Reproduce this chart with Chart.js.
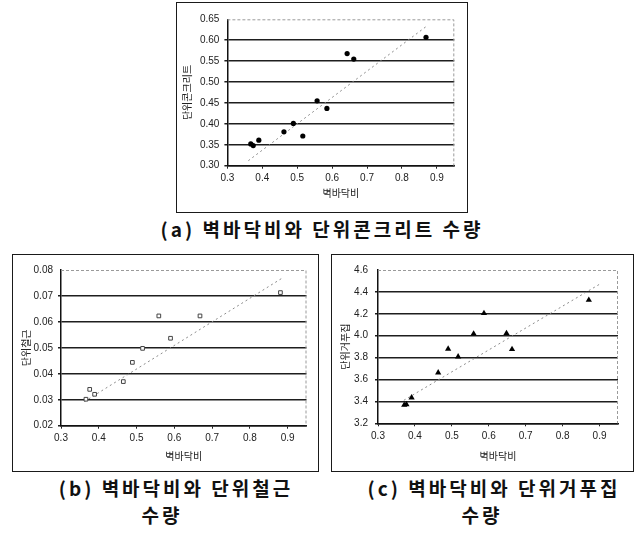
<!DOCTYPE html>
<html><head><meta charset="utf-8">
<script src="https://cdn.jsdelivr.net/npm/chart.js@4.4.1/dist/chart.umd.min.js"></script>
<style>
html,body{margin:0;padding:0;background:#fff;}
body{width:639px;height:534px;position:relative;overflow:hidden;font-family:"Noto Sans CJK KR",sans-serif;}
.frame{position:absolute;border:1px solid #1a1a1a;box-sizing:border-box;}
canvas{position:absolute;}
.cap{position:absolute;font-weight:bold;font-size:19px;line-height:22px;color:#111;white-space:nowrap;letter-spacing:3px;transform:translate(-50%,-50%);}
</style></head><body>
<div class="frame" style="left:176px;top:2px;width:292px;height:211px"></div>
<div class="frame" style="left:12px;top:254px;width:307px;height:218px"></div>
<div class="frame" style="left:331px;top:254px;width:303px;height:218px"></div>
<canvas id="ca" width="291" height="209" style="left:176px;top:3px"></canvas>
<canvas id="cb" width="305" height="216" style="left:13px;top:255px"></canvas>
<canvas id="cc" width="301" height="216" style="left:332px;top:255px"></canvas>
<div class="cap" style="left:322px;top:229px">(a) 벽바닥비와 단위콘크리트 수량</div>
<div class="cap" style="left:176px;top:488px">(b) 벽바닥비와 단위철근</div>
<div class="cap" style="left:162px;top:515px">수량</div>
<div class="cap" style="left:494px;top:488px">(c) 벽바닥비와 단위거푸집</div>
<div class="cap" style="left:482px;top:515px">수량</div>
<script>
// ---- shared x axis ----
const xTitle = '벽바닥비';
const xTickValues = [0.3, 0.4, 0.5, 0.6, 0.7, 0.8, 0.9];
const xTickLabels = ['0.3', '0.4', '0.5', '0.6', '0.7', '0.8', '0.9'];

// ---- (a) 단위콘크리트 ----
const ratioA    = [0.367, 0.374, 0.390, 0.462, 0.489, 0.516, 0.557, 0.585, 0.643, 0.662, 0.869];
const concreteA = [0.352, 0.348, 0.361, 0.381, 0.401, 0.371, 0.455, 0.437, 0.568, 0.555, 0.607];
const trendAX   = [0.360, 0.873];
const trendAY   = [0.312, 0.635];
const yTickValuesA = [0.30, 0.35, 0.40, 0.45, 0.50, 0.55, 0.60, 0.65];
const yTickLabelsA = ['0.30', '0.35', '0.40', '0.45', '0.50', '0.55', '0.60', '0.65'];

// ---- (b) 단위철근 ----
const ratioB = [0.366, 0.376, 0.389, 0.465, 0.489, 0.516, 0.559, 0.590, 0.668, 0.881];
const rebarB = [0.0302, 0.0340, 0.0321, 0.0370, 0.0444, 0.0498, 0.0623, 0.0537, 0.0623, 0.0713];
const trendBX = [0.362, 0.887];
const trendBY = [0.0293, 0.0770];
const yTickValuesB = [0.02, 0.03, 0.04, 0.05, 0.06, 0.07, 0.08];
const yTickLabelsB = ['0.02', '0.03', '0.04', '0.05', '0.06', '0.07', '0.08'];

// ---- (c) 단위거푸집 ----
const ratioC = [0.371, 0.377, 0.391, 0.463, 0.490, 0.517, 0.559, 0.587, 0.648, 0.663, 0.871];
const formC  = [3.367, 3.372, 3.434, 3.662, 3.879, 3.808, 4.018, 4.205, 4.022, 3.876, 4.326];
const trendCX = [0.370, 0.905];
const trendCY = [3.410, 4.480];
const yTickValuesC = [3.2, 3.4, 3.6, 3.8, 4.0, 4.2, 4.4, 4.6];
const yTickLabelsC = ['3.2', '3.4', '3.6', '3.8', '4.0', '4.2', '4.4', '4.6'];

const plotFrame = {
  id: 'plotFrame',
  beforeDatasetsDraw(chart) {
    const {ctx, chartArea: a} = chart;
    ctx.save();
    ctx.strokeStyle = '#9a9a9a';
    ctx.lineWidth = 1;
    ctx.setLineDash([3, 2]);
    ctx.beginPath();
    ctx.moveTo(a.left, a.top + 0.5);
    ctx.lineTo(a.right - 0.5, a.top + 0.5);
    ctx.lineTo(a.right - 0.5, a.bottom);
    ctx.stroke();
    ctx.restore();
  }
};

function pts(xs, ys) { return xs.map((x, i) => ({x: x, y: ys[i]})); }

function makeChart(id, o) {
  const yMax = o.yTicks[o.yTicks.length - 1];
  return new Chart(document.getElementById(id), {
    type: 'scatter',
    data: {
      datasets: [
        {
          data: pts(o.xs, o.ys),
          pointStyle: o.pointStyle,
          pointRadius: o.pointRadius,
          backgroundColor: o.pointFill,
          borderColor: o.pointBorder,
          borderWidth: o.pointBorderWidth,
          clip: false
        },
        {
          data: pts(o.tx, o.ty),
          showLine: true,
          pointRadius: 0,
          borderColor: '#8c8c8c',
          borderWidth: 1,
          borderDash: [2, 3],
          clip: false
        }
      ]
    },
    options: {
      responsive: false,
      animation: false,
      events: [],
      layout: {padding: o.pad},
      plugins: {legend: {display: false}, tooltip: {enabled: false}},
      scales: {
        x: {
          type: 'linear', min: 0.3, max: 0.95,
          afterBuildTicks: s => { s.ticks = xTickValues.map(v => ({value: v})); },
          afterFit: s => { s.height = o.xh; },
          ticks: {
            autoSkip: false, maxRotation: 0, padding: o.xtPad, color: '#222',
            font: {family: 'Liberation Sans', size: 10},
            callback: (v, i) => xTickLabels[i]
          },
          grid: {drawOnChartArea: false, drawTicks: true, tickLength: 3, color: '#222'},
          border: {display: true, color: '#111', width: 1.5},
          title: {display: true, text: xTitle, color: '#222',
                  font: {family: 'Noto Sans CJK KR', size: 10},
                  padding: {top: 0, bottom: o.xTitlePad}}
        },
        y: {
          type: 'linear', min: o.yTicks[0], max: yMax,
          afterBuildTicks: s => { s.ticks = o.yTicks.map(v => ({value: v})); },
          afterFit: s => { s.width = o.yw; },
          ticks: {
            autoSkip: false, padding: o.ytPad, color: '#222',
            font: {family: 'Liberation Sans', size: 10},
            callback: (v, i) => o.yLabels[i]
          },
          grid: {
            drawTicks: true, tickLength: 3,
            color: c => (c.tick && Math.abs(c.tick.value - yMax) < 1e-9) ? 'rgba(0,0,0,0)' : '#1e1e1e',
            lineWidth: 1.5
          },
          border: {display: true, color: '#111', width: 1.5},
          title: {display: true, text: o.yTitle, color: '#222',
                  font: {family: 'Noto Sans CJK KR', size: 10},
                  padding: {top: o.yTitlePad, bottom: 0}}
        }
      }
    },
    plugins: [plotFrame]
  });
}

makeChart('ca', {
  xs: ratioA, ys: concreteA, tx: trendAX, ty: trendAY,
  yTicks: yTickValuesA, yLabels: yTickLabelsA, yTitle: '단위콘크리트',
  pointStyle: 'circle', pointRadius: 2.6, pointFill: '#000', pointBorder: '#000', pointBorderWidth: 0,
  pad: {left: 0, top: 16.3, right: 12.7, bottom: 0},
  yw: 51.4, xh: 46.3, xtPad: 4, ytPad: 5, xTitlePad: 13, yTitlePad: 5
});

makeChart('cb', {
  xs: ratioB, ys: rebarB, tx: trendBX, ty: trendBY,
  yTicks: yTickValuesB, yLabels: yTickLabelsB, yTitle: '단위철근',
  pointStyle: 'rect', pointRadius: 2.6, pointFill: '#fff', pointBorder: '#444', pointBorderWidth: 1,
  pad: {left: 0, top: 15, right: 11.5, bottom: 0},
  yw: 48, xh: 45.3, xtPad: 4, ytPad: 5, xTitlePad: 9, yTitlePad: 7.7
});

makeChart('cc', {
  xs: ratioC, ys: formC, tx: trendCX, ty: trendCY,
  yTicks: yTickValuesC, yLabels: yTickLabelsC, yTitle: '단위거푸집',
  pointStyle: 'triangle', pointRadius: 3.6, pointFill: '#000', pointBorder: '#000', pointBorderWidth: 0,
  pad: {left: 0, top: 15, right: 15, bottom: 0},
  yw: 46, xh: 47.7, xtPad: 4, ytPad: 7, xTitlePad: 9, yTitlePad: 7
});
</script>
</body></html>
